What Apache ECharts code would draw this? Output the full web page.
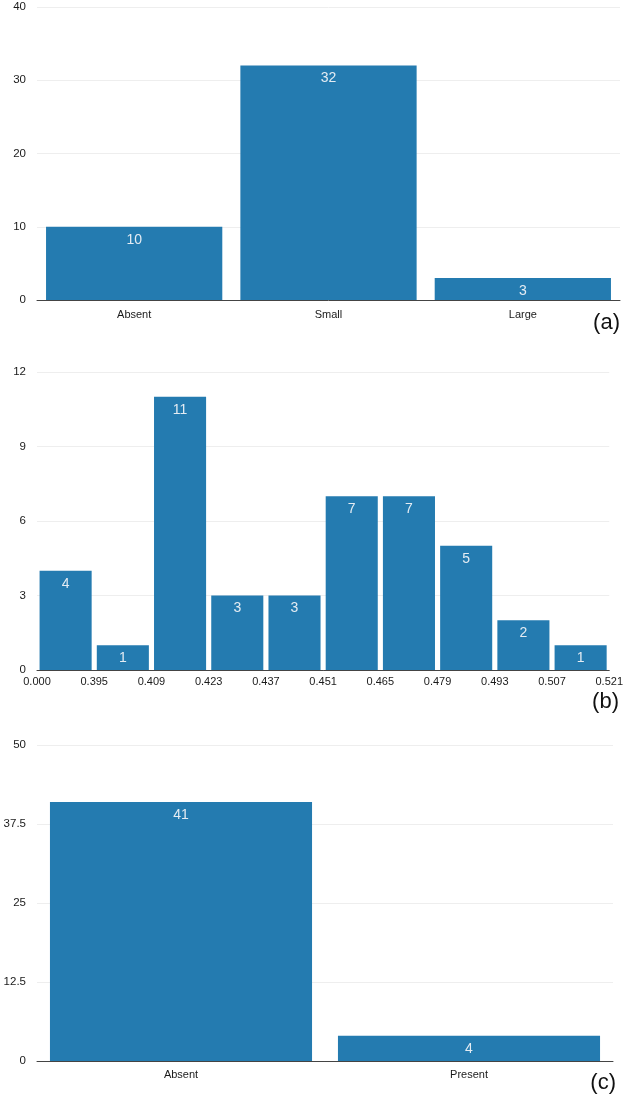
<!DOCTYPE html>
<html>
<head>
<meta charset="utf-8">
<script src="https://cdn.jsdelivr.net/npm/echarts@6/dist/echarts.min.js"></script>
<style>
  html, body { margin: 0; padding: 0; background: #fff; }
  #chart { width: 626px; height: 1095px; }
</style>
</head>
<body>
<div id="chart"></div>
<script>
// panel (a)
const sizeCategories = ['Absent', 'Small', 'Large']
const sizeCounts = [10, 32, 3]
const sizeTicks = [0, 10, 20, 30, 40]

// panel (b) histogram
const binEdges = ['0.000', '0.395', '0.409', '0.423', '0.437', '0.451', '0.465', '0.479', '0.493', '0.507', '0.521']
const binCounts = [4, 1, 11, 3, 3, 7, 7, 5, 2, 1]
const binTicks = [0, 3, 6, 9, 12]

// panel (c)
const presenceCategories = ['Absent', 'Present']
const presenceCounts = [41, 4]
const presenceTicks = [0, 12.5, 25, 37.5, 50]

const BAR_COLOR = '#247bb0'
const FONT = 'Helvetica, "Liberation Sans", Arial, sans-serif'

const chart = echarts.init(document.getElementById('chart'))

const binNames = binCounts.map((_, i) => 'bin' + i)

const yAxisFor = (gridIndex, ticks) => ({
  type: 'value',
  gridIndex,
  min: ticks[0],
  max: ticks[ticks.length - 1],
  interval: ticks[1] - ticks[0],
  axisLine: { show: false },
  axisTick: { show: false },
  axisLabel: { color: '#1a1a1a', fontSize: 11.5, fontFamily: FONT, margin: 11 },
  splitLine: { lineStyle: { color: '#eeeeee', width: 1 } }
})

const xLine = { show: true, lineStyle: { color: '#444', width: 1 } }

const barLabel = {
  show: true,
  position: 'insideTop',
  distance: 6,
  color: '#e4ecf3',
  fontSize: 14,
  fontFamily: FONT
}

const option = {
  animation: false,
  grid: [
    { left: 37, right: 6, top: 7, height: 293 },
    { left: 37, right: 14, top: 372, height: 298 },
    { left: 37, right: 13, top: 745, height: 316 }
  ],
  xAxis: [
    {
      type: 'category', gridIndex: 0, data: sizeCategories,
      axisLine: xLine, axisTick: { show: false },
      axisLabel: { color: '#1a1a1a', fontSize: 11, fontFamily: FONT, margin: 9 }
    },
    {
      type: 'category', gridIndex: 1, data: binNames,
      axisLine: xLine, axisTick: { show: false },
      axisLabel: { show: false }
    },
    {
      type: 'category', gridIndex: 1, data: binEdges, position: 'bottom',
      boundaryGap: false,
      axisLine: { show: false }, axisTick: { show: false },
      axisLabel: { color: '#1a1a1a', fontSize: 11, fontFamily: FONT, margin: 6, interval: 0 },
      splitLine: { show: false }
    },
    {
      type: 'category', gridIndex: 2, data: presenceCategories,
      axisLine: xLine, axisTick: { show: false },
      axisLabel: { color: '#1a1a1a', fontSize: 11, fontFamily: FONT, margin: 8 }
    }
  ],
  yAxis: [
    yAxisFor(0, sizeTicks),
    yAxisFor(1, binTicks),
    yAxisFor(2, presenceTicks)
  ],
  series: [
    {
      type: 'bar', xAxisIndex: 0, yAxisIndex: 0,
      data: sizeCounts, barCategoryGap: '9.3%',
      itemStyle: { color: BAR_COLOR }, label: barLabel
    },
    {
      type: 'bar', xAxisIndex: 1, yAxisIndex: 1,
      data: binCounts, barCategoryGap: '9%',
      itemStyle: { color: BAR_COLOR }, label: barLabel
    },
    {
      type: 'bar', xAxisIndex: 3, yAxisIndex: 2,
      data: presenceCounts, barCategoryGap: '9%',
      itemStyle: { color: BAR_COLOR }, label: barLabel
    }
  ],
  graphic: [
    { type: 'text', right: 6, top: 312, style: { text: '(a)', fontSize: 22, fontFamily: FONT, fill: '#111' } },
    { type: 'text', right: 7, top: 691, style: { text: '(b)', fontSize: 22, fontFamily: FONT, fill: '#111' } },
    { type: 'text', right: 10, top: 1072, style: { text: '(c)', fontSize: 22, fontFamily: FONT, fill: '#111' } }
  ]
}

chart.setOption(option)
window.addEventListener('resize', () => chart.resize())
</script>
</body>
</html>
